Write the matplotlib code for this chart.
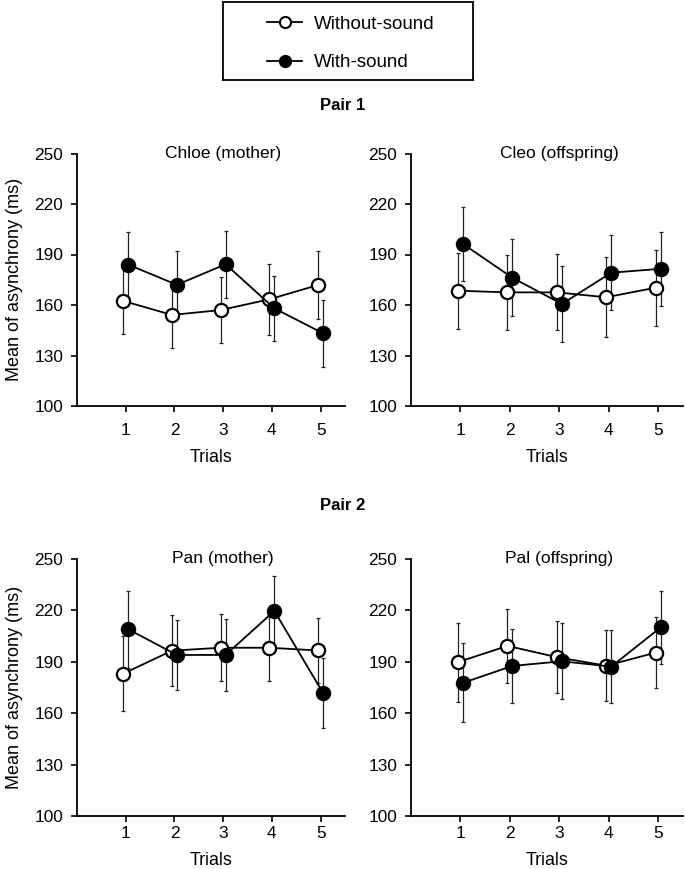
import matplotlib
matplotlib.use("Agg")
import matplotlib.pyplot as plt
from matplotlib.lines import Line2D
import numpy as np

plt.rcParams["font.family"] = ["Liberation Sans", "DejaVu Sans"]

trials = [1, 2, 3, 4, 5]
subjects = ["Chloe (mother)", "Cleo (offspring)", "Pan (mother)", "Pal (offspring)"]

# mean asynchrony (ms) and error bars
chloe_without = [162.4, 154.1, 157.0, 163.4, 171.9]
chloe_without_err = [19.8, 19.8, 19.4, 21.0, 20.2]
chloe_with = [184.0, 172.0, 184.2, 158.0, 143.2]
chloe_with_err = [19.2, 20.0, 20.0, 19.2, 19.8]

cleo_without = [168.5, 167.5, 167.5, 164.6, 170.3]
cleo_without_err = [22.5, 22.3, 22.6, 23.7, 22.5]
cleo_with = [196.3, 176.2, 160.6, 179.2, 181.5]
cleo_with_err = [22.2, 22.9, 22.7, 22.2, 22.0]

pan_without = [183.1, 196.5, 198.2, 198.2, 196.6]
pan_without_err = [21.8, 20.8, 19.5, 19.3, 19.0]
pan_with = [209.0, 194.0, 194.0, 219.7, 171.8]
pan_with_err = [22.4, 20.4, 21.0, 20.2, 20.2]

pal_without = [189.8, 199.3, 192.7, 187.7, 195.4]
pal_without_err = [23.1, 21.7, 21.2, 20.7, 20.7]
pal_with = [177.7, 187.6, 190.3, 187.2, 210.1]
pal_with_err = [23.1, 21.7, 22.2, 21.4, 21.4]

without_sets = [(chloe_without, chloe_without_err), (cleo_without, cleo_without_err),
                (pan_without, pan_without_err), (pal_without, pal_without_err)]
with_sets = [(chloe_with, chloe_with_err), (cleo_with, cleo_with_err),
             (pan_with, pan_with_err), (pal_with, pal_with_err)]

W, H = 685, 869
fig = plt.figure(figsize=(W / 100, H / 100), dpi=100)


def fig_rect(x0, x1, ytop, ybot):
    return [x0 / W, 1 - ybot / H, (x1 - x0) / W, (ybot - ytop) / H]


rects = [fig_rect(77, 345, 153.5, 406), fig_rect(411, 683, 153.5, 406),
         fig_rect(77, 345, 559, 816), fig_rect(411, 683, 559, 816)]

x = np.array(trials, dtype=float)
off = 0.05
for i, rect in enumerate(rects):
    ax = fig.add_axes(rect)
    wo, wo_err = without_sets[i]
    wi, wi_err = with_sets[i]
    ax.errorbar(x - off, wo, yerr=wo_err, fmt="none", ecolor="#222222",
                elinewidth=0.9, capsize=1.5, capthick=0.9, zorder=2)
    ax.errorbar(x + off, wi, yerr=wi_err, fmt="none", ecolor="#222222",
                elinewidth=0.9, capsize=1.5, capthick=0.9, zorder=2)
    ax.plot(x - off, wo, color="black", lw=1.3, marker="o", ms=9.5,
            mfc="white", mec="black", mew=1.6, zorder=3)
    ax.plot(x + off, wi, color="black", lw=1.3, marker="o", ms=9.5,
            mfc="black", mec="black", mew=1.6, zorder=4)
    ax.set_xlim(0, 5.5)
    ax.set_ylim(100, 250)
    ax.set_yticks([100, 130, 160, 190, 220, 250])
    ax.set_xticks(trials)
    for s in ["top", "right"]:
        ax.spines[s].set_visible(False)
    for s in ["left", "bottom"]:
        ax.spines[s].set_linewidth(1.3)
    ax.tick_params(direction="out", length=4, width=1.2, labelsize=12.4, pad=6)
    top_row = i < 2
    ax.tick_params(axis="x", pad=8 if top_row else 3)
    ax.text(3, 250, subjects[i], ha="center", va="center", fontsize=12.5,
            clip_on=False)
    ax.set_xlabel("Trials", fontsize=12.8, labelpad=8)
    if i % 2 == 0:
        ax.set_ylabel("Mean of asynchrony (ms)", fontsize=13, labelpad=8)

fig.text(343 / W, 1 - 105 / H, "Pair 1", ha="center", va="center",
         fontsize=12, fontweight="bold")
fig.text(343 / W, 1 - 505 / H, "Pair 2", ha="center", va="center",
         fontsize=12, fontweight="bold")

# legend box
lax = fig.add_axes(fig_rect(223, 473, 2, 80))
lax.set_xticks([])
lax.set_yticks([])
for s in lax.spines.values():
    s.set_linewidth(1.3)
handles = [
    Line2D([], [], color="black", lw=1.3, marker="o", ms=8, mfc="white", mec="black", mew=1.5),
    Line2D([], [], color="black", lw=1.3, marker="o", ms=8, mfc="black", mec="black", mew=1.5),
]
lax.legend(handles, ["Without-sound", "With-sound"], loc="center left",
           bbox_to_anchor=(0.176, 0.47), frameon=False, fontsize=13.5,
           borderpad=0, borderaxespad=0, handlelength=1.87, handletextpad=0.62,
           labelspacing=1.15)

fig.savefig("out.png", dpi=100)
